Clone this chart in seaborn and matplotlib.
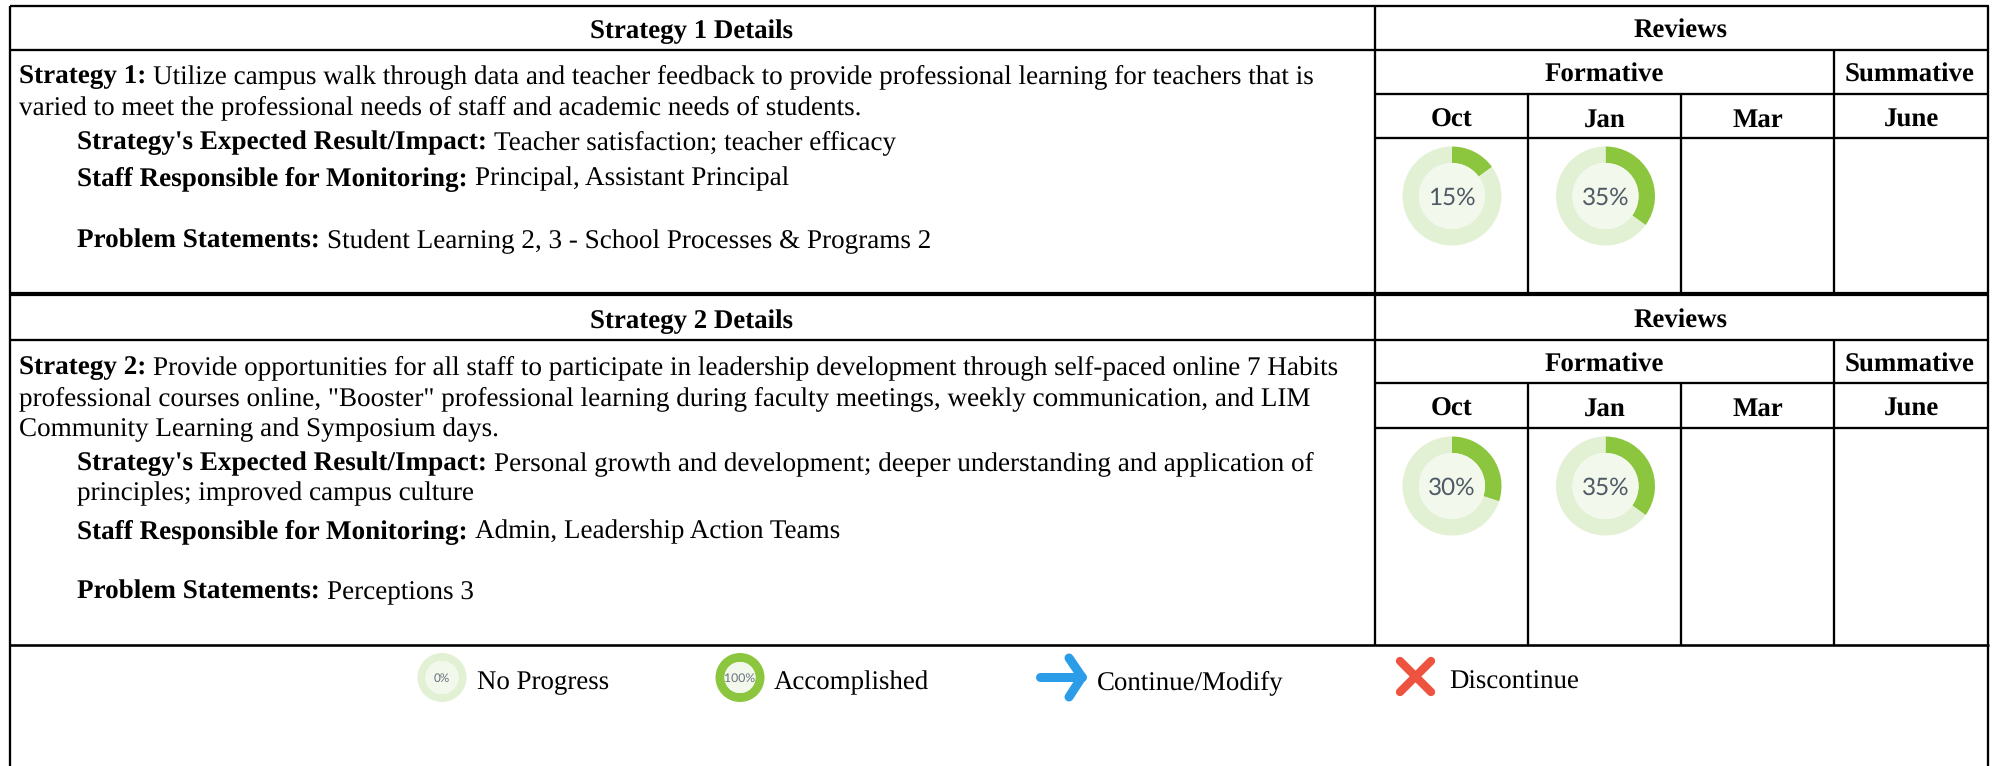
import matplotlib
matplotlib.use("Agg")
import matplotlib.pyplot as plt
import seaborn as sns

W, H = 1999, 766

# %% data
months = ["Oct", "Jan", "Mar", "June"]
strategy_1_reviews = [15, 35]
strategy_2_reviews = [30, 35]
legend_labels = ["No Progress", "Accomplished", "Continue/Modify", "Discontinue"]
legend_values = [0, 100]

strategy_1_lines = [
    ("Strategy 1:", "Utilize campus walk through data and teacher feedback to provide professional learning for teachers that is"),
    ("", "varied to meet the professional needs of staff and academic needs of students."),
    ("Strategy's Expected Result/Impact:", "Teacher satisfaction; teacher efficacy"),
    ("Staff Responsible for Monitoring:", "Principal, Assistant Principal"),
    ("Problem Statements:", "Student Learning 2, 3 - School Processes & Programs 2"),
]
strategy_2_lines = [
    ("Strategy 2:", "Provide opportunities for all staff to participate in leadership development through self-paced online 7 Habits"),
    ("", "professional courses online, \"Booster\" professional learning during faculty meetings, weekly communication, and LIM"),
    ("", "Community Learning and Symposium days."),
    ("Strategy's Expected Result/Impact:", "Personal growth and development; deeper understanding and application of"),
    ("", "principles; improved campus culture"),
    ("Staff Responsible for Monitoring:", "Admin, Leadership Action Teams"),
    ("Problem Statements:", "Perceptions 3"),
]

GREEN = "#8cc63f"
PALE = "#e2f0d3"
INNER = "#f2f8ec"
FS = 19.4
BODY_FS = 19.5

sns.set_theme(style="white")
plt.rcParams["font.family"] = ["Liberation Serif", "DejaVu Serif"]
plt.rcParams["text.hinting"] = "no_hinting"

fig = plt.figure(figsize=(W / 100, H / 100), dpi=100)
ax = fig.add_axes([0, 0, 1, 1])


def yy(y):
    return H - y


def hline(y, x0, x1, lw=2.3):
    ax.plot([x0, x1], [yy(y), yy(y)], color="black", lw=lw * 0.72, solid_capstyle="butt")


def vline(x, y0, y1, lw=2.3):
    ax.plot([x, x], [yy(y0), yy(y1)], color="black", lw=lw * 0.72, solid_capstyle="butt")


def rich(x, y, bold, regular, gap=7):
    r = fig.canvas.get_renderer()
    if bold:
        t = ax.text(x, yy(y), bold, fontsize=BODY_FS, fontweight="bold", va="baseline", color="black")
        x = x + t.get_window_extent(r).width + gap
    ax.text(x, yy(y), regular, fontsize=BODY_FS, va="baseline", color="black")


def donut(cx, cy, value, r=49.5, width=16.5, label_fs=17.5, label_color="#4f5a66"):
    ax.pie([value, 100 - value] if value < 100 else [100], colors=[GREEN, PALE] if value < 100 else [GREEN],
           center=(cx, yy(cy)), radius=r, startangle=90, counterclock=False,
           wedgeprops=dict(width=width, linewidth=0), frame=True)
    ax.pie([1], colors=[INNER], center=(cx, yy(cy)), radius=r - width, frame=True,
           wedgeprops=dict(linewidth=0))
    ax.text(cx, yy(cy), f"{value}%", fontsize=label_fs, ha="center", va="center_baseline",
            color=label_color, family=["Lato", "DejaVu Sans"])


def block(top, head, sub, month_line, bottom, title, lines, baselines, reviews, cy):
    hline(head, 10, 1988)
    hline(sub, 1375, 1988)
    hline(month_line, 1375, 1988)
    vline(1375, top, bottom)
    vline(1834, head, bottom)
    for x in [1528, 1681]:
        vline(x, sub, bottom)
    ax.text(692, yy(top + 32), title, fontsize=FS, fontweight="bold", ha="center", va="baseline", color="black")
    ax.text(1681, yy(top + 32), "Reviews", fontsize=FS, fontweight="bold", ha="center", va="baseline", color="black")
    ax.text(1604, yy(head + 32), "Formative", fontsize=FS, fontweight="bold", ha="center", va="baseline", color="black")
    ax.text(1910, yy(head + 32), "Summative", fontsize=FS, fontweight="bold", ha="center", va="baseline", color="black")
    for m, x in zip(months, [1451.5, 1604.5, 1757.5, 1911]):
        ax.text(x, yy(sub + 33), m, fontsize=FS, fontweight="bold", ha="center", va="baseline", color="black")
    for (b, reg), (x, y) in zip(lines, baselines):
        rich(x, y, b, reg)
    for v, x in zip(reviews, [1452, 1605.5]):
        donut(x, cy, v)


# outer frame
vline(10.5, 6, H)
vline(1988, 6, H)
hline(6, 10, 1989)

block(6, 50, 94, 138, 294, "Strategy 1 Details", strategy_1_lines,
      [(19, 83), (19, 114), (77, 149), (77, 185), (77, 248)], strategy_1_reviews, 196)
hline(294, 10, 1989, lw=4.2)
block(296, 340, 383, 428, 645, "Strategy 2 Details", strategy_2_lines,
      [(19, 374), (19, 405), (19, 436), (77, 470), (77, 500), (77, 538), (77, 599)], strategy_2_reviews, 486)
hline(645, 10, 1989, lw=2.6)

# legend
donut(442, 677.5, legend_values[0], r=24.5, width=8, label_fs=8.5, label_color="#66727d")
donut(740, 677.5, legend_values[1], r=24.5, width=9, label_fs=8.8, label_color="#66727d")
BLUE = "#2b9de8"
ax.plot([1040, 1082], [yy(677), yy(677)], color=BLUE, lw=6.5, solid_capstyle="round")
ax.plot([1069, 1082, 1069], [yy(658), yy(677), yy(697)], color=BLUE, lw=6.5,
        solid_capstyle="round", solid_joinstyle="round")
RED = "#ee5340"
ax.plot([1400, 1431], [yy(661), yy(692)], color=RED, lw=6, solid_capstyle="round")
ax.plot([1431, 1400], [yy(661), yy(692)], color=RED, lw=6, solid_capstyle="round")
for label, x in zip(legend_labels, [477, 774, 1097, 1449]):
    ax.text(x, yy(689), label, fontsize=FS, va="baseline", color="black")

ax.set_xlim(0, W)
ax.set_ylim(0, H)
ax.set_aspect("auto")
ax.axis("off")

fig.savefig("out.png", dpi=100, facecolor="white")
